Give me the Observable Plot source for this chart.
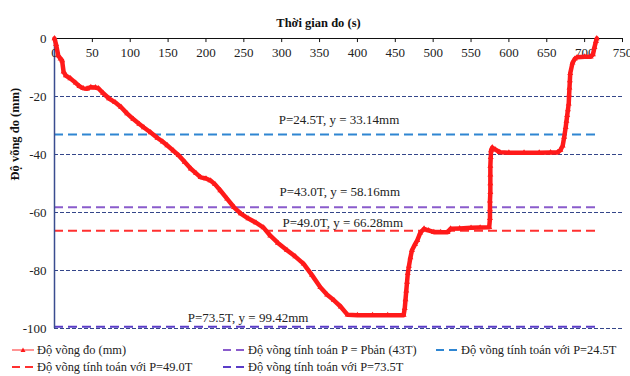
<!DOCTYPE html>
<html>
<head>
<meta charset="utf-8">
<script src="https://cdn.jsdelivr.net/npm/d3@7"></script>
<script src="https://cdn.jsdelivr.net/npm/@observablehq/plot@0.6"></script>
<style>
  html, body { margin: 0; padding: 0; background: #fff; }
  #chart { position: relative; width: 630px; height: 376px; font-family: "Liberation Serif", "Times New Roman", serif; }
  #legend { position: absolute; left: 0; top: 338px; width: 630px; height: 38px; }
  .item { position: absolute; display: flex; align-items: center; font-size: 12.4px; color: #222; white-space: nowrap; }
  .item svg { display: block; margin-right: 2px; }
</style>
</head>
<body>
<div id="chart"><div id="legend"></div></div>
<script>
// Measured deflection over time (s, mm)
const time = [
  0, 2, 5, 8, 10, 12, 15, 21, 28, 33, 38, 43, 48, 54, 58, 64, 72, 80, 88, 96,
  104, 112, 118, 127, 136, 143, 149, 157, 164, 172, 180, 187, 193, 200, 206, 212, 219, 228, 237, 246,
  256, 266, 276, 285, 295, 307, 318, 329, 340, 351, 360, 369, 378, 387, 400, 420, 440, 461,
  462.5, 463.5, 464.5, 465.5, 466.5, 468, 470, 472, 476, 479, 483, 488, 494, 501, 510, 519, 523, 535, 550, 562, 574,
  575, 575, 575, 575.5, 575.5, 575.5, 575.5, 576, 576.5, 578, 582, 588, 600, 620, 640, 655, 664,
  668, 671, 673, 675, 676, 677, 678, 679, 679.5, 680, 680.5, 681, 684, 687, 690, 700, 708, 711, 713, 715, 716
];
const deflection = [
  0, -2, -5.9, -7, -7.6, -11.5, -12.8, -13.8, -15.3, -16.5, -17.2, -17.3, -16.8, -16.9, -17.2, -18.8, -20.7, -22, -23.7, -25.9,
  -27.8, -29.5, -30.7, -32.4, -34.3, -35.6, -36.9, -38.7, -40.3, -42.6, -44.9, -46.5, -47.9, -48.3, -49, -50.3, -52.4, -55.3, -58.2, -60.4,
  -62.1, -63.5, -65.2, -68, -70.5, -73, -75.2, -77.7, -81.6, -85.8, -88.4, -90.3, -92.5, -95.3, -95.4, -95.4, -95.4, -95.4,
  -93, -90, -87, -84, -81, -78.5, -75.5, -73, -71, -69.6, -67, -65.6, -66.2, -66.8, -66.8, -66.8, -65.6, -65.5, -65.3, -65.2, -65.1,
  -62, -59, -56, -53, -50, -47, -44, -41, -38.6, -37.6, -38.3, -39.2, -39.4, -39.4, -39.4, -39.3, -39.3,
  -38.5, -37, -34, -30.6, -28.5, -26.5, -24.5, -22.5, -19.5, -17, -14.5, -12, -8.4, -7, -6.5, -6.3, -6.3, -5.5, -3, -1, 0
];
const measured = time.map((t, i) => ({t, d: deflection[i]}));

// Calculated deflections for each load case
const loadLabels = ["P=24.5T", "P=43.0T", "P=49.0T", "P=73.5T"];
const loadDeflections = [33.14, 58.16, 66.28, 99.42];

// Axis ticks
const xTicks = [0, 50, 100, 150, 200, 250, 300, 350, 400, 450, 500, 550, 600, 650, 700, 750];
const yTicks = [0, -20, -40, -60, -80, -100];
const xTitle = "Thời gian đo (s)";
const yTitle = "Độ võng đo (mm)";

// Legend entries
const legendLabels = [
  "Độ võng đo (mm)",
  "Độ võng tính toán P = Pbản (43T)",
  "Độ võng tính toán với P=24.5T",
  "Độ võng tính toán với P=49.0T",
  "Độ võng tính toán với P=73.5T"
];

const RED = "#ff1a1a";
const GRID = "#34468a";
const refColors = ["#2f86d2", "#8a5ccc", "#ff3030", "#5a3cc8"];
// label anchor (time) and vertical pixel offset for each reference label
const labelX = [296, 297, 301, 176];
const labelDy = [-15, -15, -8, -9];

const refs = loadLabels.map((p, i) => ({
  label: `${p}, y = ${loadDeflections[i].toFixed(2)}mm`,
  y: -loadDeflections[i],
  color: refColors[i],
  lx: labelX[i],
  dy: labelDy[i]
}));

const serif = "Liberation Serif, Times New Roman, serif";

const chart = Plot.plot({
  width: 630,
  height: 338,
  marginLeft: 54,
  marginRight: 8,
  marginTop: 38,
  marginBottom: 10,
  style: {fontFamily: serif, fontSize: "13px", background: "#fff", overflow: "visible"},
  x: {domain: [0, 750], axis: null},
  y: {domain: [-100, 0], axis: null},
  color: {type: "identity"},
  marks: [
    // dashed grid
    Plot.ruleY(yTicks.filter(v => v !== 0), {y: d => d, x1: 0, x2: 750, stroke: GRID, strokeWidth: 1, strokeDasharray: "4,2"}),
    // calculated deflection lines
    ...refs.map(r => Plot.ruleY([r], {y: "y", x1: 0, x2: 716, stroke: r.color, strokeWidth: 2, strokeDasharray: "9,5"})),
    ...refs.map(r => Plot.text([r], {x: () => r.lx, y: "y", text: "label", dy: r.dy, textAnchor: "start", fontSize: 13, fill: "#222", fontFamily: serif})),
    // axes lines
    Plot.ruleX([0], {y1: -100, y2: 0, stroke: "#3a4d8f", strokeWidth: 1.5}),
    Plot.ruleY([0], {x1: 0, x2: 750, stroke: "#111", strokeWidth: 1.2}),
    Plot.ruleX(xTicks, {x: d => d, y1: 0, y2: -1.4, stroke: "#111", strokeWidth: 1}),
    Plot.ruleY(yTicks, {y: d => d, x1: 0, x2: 0, dx: -4, stroke: "#3a4d8f", strokeWidth: 1}),
    Plot.text(xTicks, {x: d => d, y: 0, text: d => String(d), dy: 14, fontSize: 13, fill: "#222", fontFamily: serif}),
    Plot.text(yTicks, {x: 0, y: d => d, text: d => String(d), dx: -8, textAnchor: "end", fontSize: 13, fill: "#222", fontFamily: serif}),
    // measured deflection
    Plot.line(measured, {x: "t", y: "d", stroke: RED, strokeWidth: 4.5, strokeLinejoin: "round", strokeLinecap: "round"}),
    Plot.dot(measured, {x: "t", y: "d", symbol: "triangle", r: 2.2, fill: RED}),
    // titles
    Plot.text([xTitle], {frameAnchor: "top", dy: -20, dx: -20, text: d => d, fontWeight: "bold", fontSize: 12.5, fill: "#111", fontFamily: serif}),
    Plot.text([yTitle], {frameAnchor: "left", dx: -40, dy: -3, rotate: -90, text: d => d, fontWeight: "bold", fontSize: 12.5, fill: "#111", fontFamily: serif})
  ]
});

document.getElementById("chart").insertBefore(chart, document.getElementById("legend"));

// Legend below the plot
const legendLayout = [
  {x: 12, y: 12, kind: "measured", color: RED},
  {x: 223, y: 12, kind: "dash", color: refColors[1]},
  {x: 436, y: 12, kind: "dash", color: refColors[0]},
  {x: 12, y: 29, kind: "dash", color: refColors[2]},
  {x: 223, y: 29, kind: "dash", color: refColors[3]}
];
const legend = d3.select("#legend");
legendLabels.forEach((label, i) => {
  const L = legendLayout[i];
  const item = legend.append("div").attr("class", "item")
    .style("left", L.x + "px").style("top", (L.y - 9) + "px").style("height", "18px");
  const s = item.append("svg").attr("width", 23).attr("height", 10);
  if (L.kind === "measured") {
    s.append("line").attr("x1", 0).attr("x2", 22).attr("y1", 5).attr("y2", 5)
      .attr("stroke", "#ff7070").attr("stroke-width", 1.5);
    s.append("path").attr("d", "M11,2.5L13.5,7L8.5,7Z").attr("fill", RED);
  } else {
    s.append("line").attr("x1", 0).attr("x2", 22).attr("y1", 5).attr("y2", 5)
      .attr("stroke", L.color).attr("stroke-width", 2).attr("stroke-dasharray", "8,5");
  }
  item.append("span").text(label);
});
</script>
</body>
</html>
